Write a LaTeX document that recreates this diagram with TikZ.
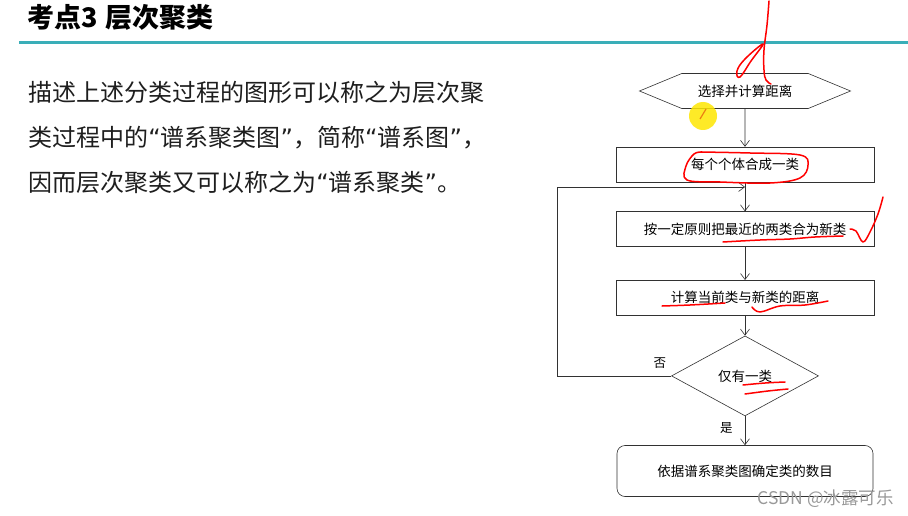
\documentclass[tikz,border=0pt]{standalone}
\usepackage{fontspec}
\setmainfont{Noto Sans CJK SC}
\newfontfamily\quotefont{DejaVu Sans}
\usetikzlibrary{arrows.meta}
\usetikzlibrary{positioning}
\usetikzlibrary{shapes.geometric}
\usetikzlibrary{shapes.symbols}
\definecolor{titleline}{RGB}{58,174,184}
\definecolor{bodytext}{RGB}{30,30,30}
\definecolor{boxline}{RGB}{50,50,50}
\newcommand{\oq}{{\quotefont “}}
\newcommand{\cq}{{\quotefont ”}}

\begin{document}
\begin{tikzpicture}[x=1pt,y=-1pt,->,>={Straight Barb[length=6pt,width=9pt]},
		semithick,draw=boxline]
		\tikzstyle{flowbox}=[draw,rectangle,minimum width=258pt,minimum height=35pt,
		inner sep=0pt,font=\fontsize{13.5}{13.5}\selectfont]
		\tikzstyle{ink}=[-,red,line width=1.5pt,line cap=round,line join=round]
		\useasboundingbox (0,0) rectangle (908,516);
		\fill[white] (0,0) rectangle (908,516);
		
		% slide title and text
		\node[anchor=base west,inner sep=0pt,font=\fontsize{27}{27}\selectfont\bfseries] (title) at (27,28) {考点3\hspace{8pt}层次聚类};
		\draw[-,titleline,line width=3.3pt] (19,42.3) -- (908,42.3);
		\node[anchor=base west,inner sep=0pt,text=bodytext,font=\fontsize{24}{24}\selectfont] (line1) at (28,102) {描述上述分类过程的图形可以称之为层次聚};
		\node[anchor=base west,inner sep=0pt,text=bodytext,font=\fontsize{24}{24}\selectfont] (line2) at (28,147) {类过程中的\oq 谱系聚类图\cq ，简称\oq 谱系图\cq ，};
		\node[anchor=base west,inner sep=0pt,text=bodytext,font=\fontsize{24}{24}\selectfont] (line3) at (28,192) {因而层次聚类又可以称之为\oq 谱系聚类\cq 。};
		
		% flow chart
		\node[draw,signal,signal to=west and east,signal pointer angle=45,
		minimum width=211pt,minimum height=35pt,inner sep=0pt,
		font=\fontsize{13.5}{13.5}\selectfont] (hex) at (745,91) {选择并计算距离};
		\node[flowbox] (box1) [below=38pt of hex]  {每个个体合成一类};
		\node[flowbox] (box2) [below=29pt of box1] {按一定原则把最近的两类合为新类};
		\node[flowbox] (box3) [below=33pt of box2] {计算当前类与新类的距离};
		\node[draw,diamond,minimum width=147pt,minimum height=80pt,inner sep=0pt,
		font=\fontsize{13.5}{13.5}\selectfont] (dia) [below=20pt of box3] {仅有一类};
		\node[flowbox,rounded corners=8pt,minimum width=256pt,minimum height=51pt] (final) [below=29pt of dia] {依据谱系聚类图确定类的数目};
		\coordinate (loopin) at (745,187);
		\coordinate (turn) at (557,187);
		
		\path (hex)  edge (box1)
		(box1) edge (box2)
		(box2) edge (box3)
		(box3) edge (dia)
		(dia)  edge node[pos=0.4,left=12pt,inner sep=0pt,font=\fontsize{12.5}{12.5}\selectfont] {是} (final);
		\draw (dia.west) -| node[pos=0.05,above=7pt,inner sep=0pt,font=\fontsize{12.5}{12.5}\selectfont] {否} (turn) -- (loopin);
		
		% pen marks
		\draw[ink] plot[smooth,tension=0.7] coordinates {(769,1) (767,25) (764,50) (764,70) (766,80) (771,84)};
		\draw[ink] plot[smooth cycle,tension=0.7] coordinates {(763,44) (751,61) (740,77) (737,71) (745,59)};
		\draw[ink] plot[smooth,tension=0.6] coordinates {(700,152) (750,153) (800,155) (808,165) (800,178) (770,183) (720,182) (687,180) (686,166) (694,154) (702,152)};
		\draw[ink] plot[smooth,tension=0.6] coordinates {(723,242) (760,240) (790,239) (815,237) (843,236)};
		\draw[ink] plot[smooth,tension=0.6] coordinates {(850,229) (856,231) (863,242) (870,232) (878,214) (883,197)};
		\draw[ink] plot[smooth,tension=0.6] coordinates {(662,306) (690,305) (725,303)};
		\draw[ink] plot[smooth,tension=0.6] coordinates {(752,307) (760,312) (780,306) (805,305) (828,301)};
		\draw[ink] plot[smooth,tension=0.6] coordinates {(743,385) (765,383) (785,382)};
		\draw[ink] plot[smooth,tension=0.6] coordinates {(745,394) (768,391) (788,389)};
		
		% cursor
		\fill[yellow!90!orange,opacity=0.85] (703,116) circle (14);
		\draw[-,orange!70!brown,line width=1.2pt] (706,109) -- (700,119);
		
		% watermark
		\node[anchor=west,inner sep=0pt,text=black!40,font=\fontsize{17.5}{17.5}\selectfont] (mark) at (757,499) {CSDN @冰露可乐};
\end{tikzpicture}
\end{document}
